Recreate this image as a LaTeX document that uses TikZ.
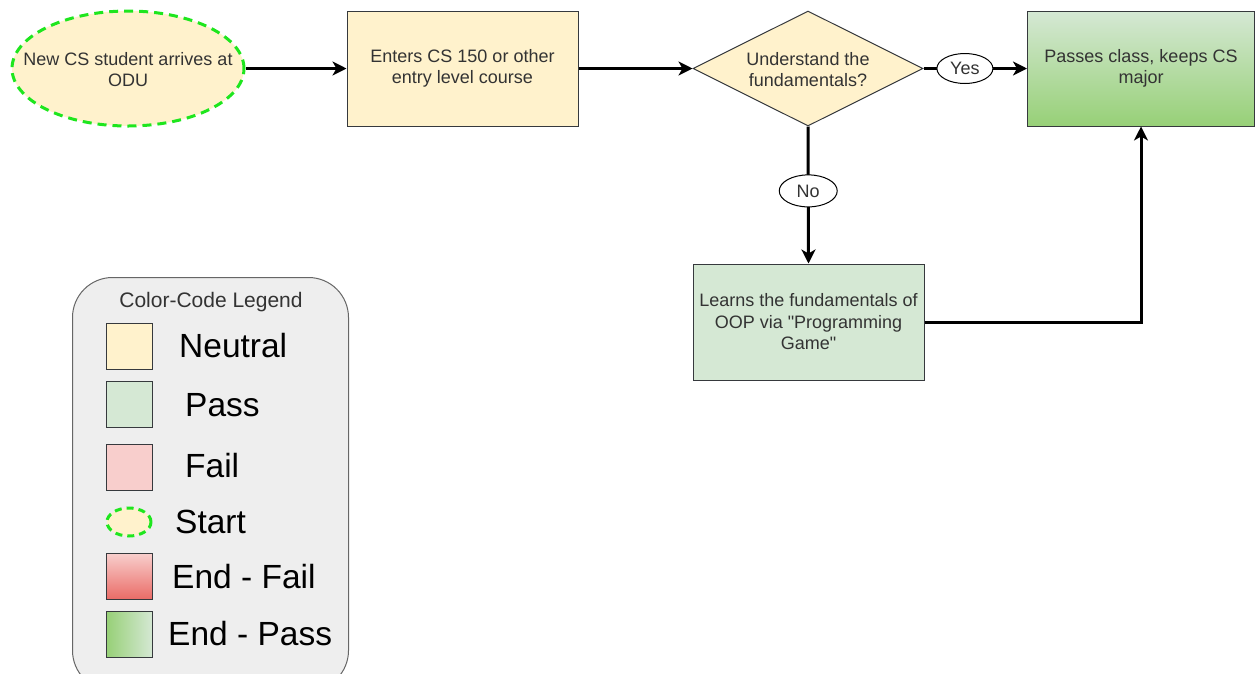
\documentclass[tikz,border=0pt]{standalone}
\usepackage{fontspec}
\setmainfont{Liberation Sans}
\newfontfamily\plainsans{Liberation Sans}
\usetikzlibrary{arrows.meta,shapes.geometric}
\definecolor{neutralc}{HTML}{FFF2CC}
\definecolor{passc}{HTML}{D5E8D4}
\definecolor{failc}{HTML}{F8CECC}
\definecolor{deepgreen}{HTML}{97D077}
\definecolor{deepred}{HTML}{EA6B66}
\definecolor{startgreen}{HTML}{1EE61E}
\definecolor{strokec}{HTML}{36393D}
\definecolor{txtc}{HTML}{333333}
\definecolor{legfill}{HTML}{EEEEEE}
\definecolor{legdraw}{HTML}{666666}
\begin{document}
\plainsans
\begin{tikzpicture}[x=1pt,y=-1pt,
  box/.style={draw=strokec, line width=1pt, minimum width=231pt, minimum height=115pt, inner sep=0pt,
    text=txtc, font=\plainsans\fontsize{18}{21.5}\selectfont, align=center},
  txt/.style={text=txtc, font=\plainsans\fontsize{18}{21.5}\selectfont, align=center, inner sep=0pt},
  arr/.style={line width=3pt, -{Stealth[length=14pt,width=14pt,inset=4pt]}},
  lbl/.style={ellipse, draw=black, line width=1pt, fill=white, minimum width=56pt, minimum height=30pt,
    inner sep=0pt, text=txtc, font=\plainsans\fontsize{18}{21}\selectfont},
  startshape/.style={ellipse, draw=startgreen, line width=3pt, fill=neutralc, inner sep=0pt},
  legsq/.style={draw=strokec, line width=1pt, minimum size=46pt, inner sep=0pt, anchor=north west},
  legtxt/.style={font=\plainsans\fontsize{33.5}{40}\selectfont, anchor=base west, inner sep=0pt, text=black}
]
\useasboundingbox (0,0) rectangle (1256,673);

% flow nodes
\node[startshape, dash pattern=on 9pt off 6pt, minimum width=232pt, minimum height=115pt] (start) at (128,68.5) {};
\node[txt] (starttxt) at (128,69.5) {New CS student arrives at\\ODU};
\node[box, fill=neutralc] (enter) at (462.5,68.5) {Enters CS 150 or other\\entry level course};
\node[diamond, draw=strokec, line width=1pt, fill=neutralc, minimum width=230pt, minimum height=115pt, inner sep=0pt] (q) at (808,68.5) {};
\node[txt] (qtxt) at (808,69.5) {Understand the\\fundamentals?};
\node[box, minimum width=227pt, top color=passc, bottom color=deepgreen] (pass) at (1141,68.5) {Passes class, keeps CS\\major};
\node[box, fill=passc, minimum height=116pt] (learn) at (808.5,322) {Learns the fundamentals of\\OOP via "Programming\\Game"};

% connectors
\draw[arr] (start.east) -- (enter.west);
\draw[arr] (enter.east) -- (q.west);
\draw[arr] (q.east) -- node[lbl, pos=0.4] (yes) {Yes} (pass.west);
\draw[arr] (q.south) -- node[lbl, pos=0.47, minimum width=58pt, minimum height=32pt] (no) {No} (learn.north);
\draw[arr] (learn.east) -| (pass.south);

% legend
\node[draw=legdraw, fill=legfill, line width=1pt, rounded corners=40pt, minimum width=276pt, minimum height=413pt, inner sep=0pt, anchor=north west] (legend) at (72,277) {};
\node[font=\plainsans\fontsize{21}{25}\selectfont, text=txtc, anchor=base, inner sep=0pt] (legtitle) at (211,307) {Color-Code Legend};
\node[legsq, fill=neutralc] (sqN) at (106,322.5) {};
\node[legsq, fill=passc] (sqP) at (106,380.5) {};
\node[legsq, fill=failc] (sqF) at (106,443.5) {};
\node[startshape, dash pattern=on 7pt off 5pt, minimum width=44pt, minimum height=28pt] (sqS) at (129,522) {};
\node[legsq, top color=failc, bottom color=deepred] (sqEF) at (106,553) {};
\node[legsq, left color=deepgreen, right color=passc] (sqEP) at (106,611) {};
\node[legtxt] (tN) at (179,357) {Neutral};
\node[legtxt] (tP) at (185,416) {Pass};
\node[legtxt] (tF) at (185,477) {Fail};
\node[legtxt] (tS) at (175,533) {Start};
\node[legtxt] (tEF) at (172,588) {End - Fail};
\node[legtxt] (tEP) at (168,645) {End - Pass};
\end{tikzpicture}
\end{document}
